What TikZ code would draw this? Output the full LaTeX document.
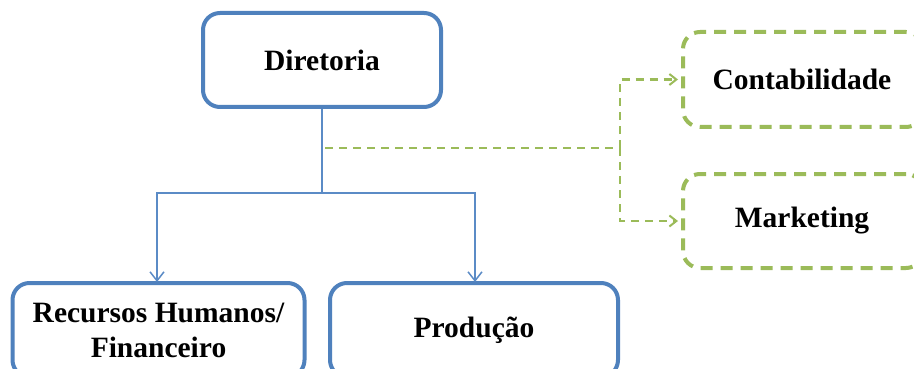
\documentclass[tikz,border=0pt]{standalone}
\usepackage{fontspec}
\setmainfont{Liberation Serif}
\usetikzlibrary{arrows.meta}
\definecolor{boxblue}{HTML}{4F81BD}
\definecolor{lineblue}{HTML}{5B8BC6}
\definecolor{boxgreen}{HTML}{9BBB59}
\begin{document}
\begin{tikzpicture}[x=1pt,y=-1pt,
  lbl/.style={font=\fontsize{29.5}{35}\selectfont\bfseries, text=black, align=center},
  solidbox/.style={lbl, draw=boxblue, line width=4pt, rounded corners=17pt, fill=white, inner sep=0pt},
  dashbox/.style={lbl, draw=boxgreen, line width=4pt, rounded corners=17pt, fill=white, inner sep=0pt,
    dash pattern=on 12pt off 8pt},
  tree/.style={draw=lineblue, line width=1.5pt, -{Straight Barb[length=9pt,width=14pt,line width=1.5pt]}},
  side/.style={draw=boxgreen, line width=2.2pt, dash pattern=on 8pt off 6pt},
  sidearrow/.style={side, -{Straight Barb[length=7pt,width=11pt,line width=2pt]}}]
\useasboundingbox (0,0) rectangle (914,369);

% boxes
\node[solidbox, minimum width=238pt, minimum height=94pt] (dir) at (322,60) {Diretoria};
\node[solidbox, minimum width=292pt, minimum height=94pt] (rh) at (158.5,330) {Recursos Humanos/\\Financeiro};
\node[solidbox, minimum width=288pt, minimum height=94pt] (prod) at (474,330) {Produção};
\node[dashbox, minimum width=240pt, minimum height=95pt] (cont) at (803,79.5) {};
\node[lbl] at (802,79.5) {Contabilidade};
\node[dashbox, minimum width=240pt, minimum height=94pt] (mkt) at (803,221) {};
\node[lbl] at (802,221) {Marketing};

% blue tree connectors
\coordinate (split) at (322,193);
\draw[draw=lineblue, line width=1.5pt] (dir.south) -- (split);
\draw[tree] (split) -| ([yshift=-1pt]rh.north -| 157,0);
\draw[tree] (split) -| ([yshift=-1pt]prod.north -| 475,0);

% green dashed side connectors
\coordinate (gstart) at (325,148);
\coordinate (gbus) at (620,148);
\draw[side] (gstart) -- (gbus);
\draw[sidearrow] (gbus) |- ([xshift=-3pt]cont.west);
\draw[sidearrow] (gbus) |- ([xshift=-3pt]mkt.west);
\end{tikzpicture}
\end{document}
